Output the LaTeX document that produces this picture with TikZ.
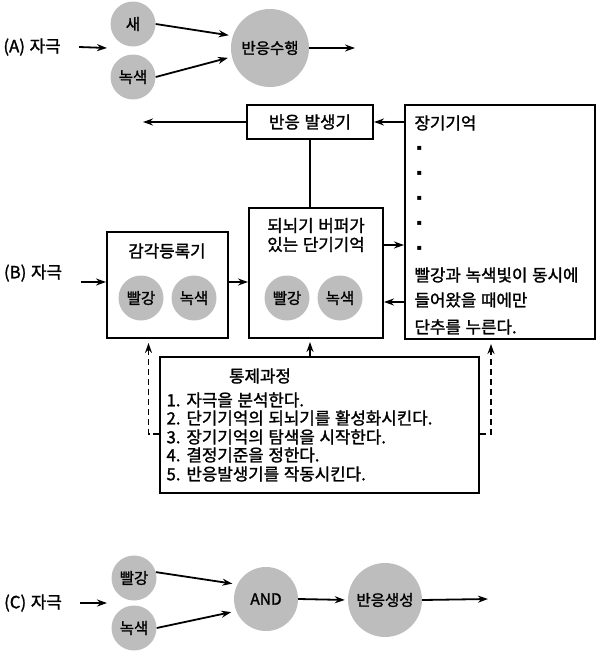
\documentclass[tikz,border=0pt]{standalone}
\usepackage{fontspec}
\setmainfont{Noto Sans CJK KR}[WordSpace=1.25,FakeBold=1.5]
\newfontfamily\symfont{DejaVu Sans}
\usepackage{tikz}
\usetikzlibrary{arrows.meta,calc,positioning}
\definecolor{BulbGray}{HTML}{BDBDBD}

\begin{document}
\begin{tikzpicture}[x=1pt,y=-1pt,font=\fontsize{16.8}{19}\selectfont,
  arr/.style={line width=1.8pt,-{Stealth[length=10pt,width=7pt]}},
  dasharr/.style={arr,dash pattern=on 6pt off 4pt},
  bulb/.style={circle,fill=BulbGray,inner sep=0pt,minimum size=45pt,font=\fontsize{15.5}{17}\selectfont},
  stagebox/.style={draw,line width=2pt,inner sep=0pt}]
  \useasboundingbox (0,0) rectangle (597,653);

  % (A) simple reaction
  \node (lblA) at (32,47) {(A) 자극};
  \coordinate (inA) at (107,48);
  \node[bulb] (saeA) at (133,24) {새};
  \node[bulb] (greenA) at (133,77) {녹색};
  \node[bulb,minimum size=78pt] (respA) at (270,48) {반응수행};
  \coordinate (outA) at (355,48);
  \draw[arr] (lblA.east) ++(15,0) -- (inA);
  \draw[arr,shorten >=4pt] (saeA.east) -- (respA.162);
  \draw[arr,shorten >=4pt] (greenA.east) -- (respA.193);
  \draw[arr] (respA.east) -- (outA);

  % (B) stage model
  \node (lblB) at (33,273) {(B) 자극};
  \node[stagebox,minimum width=126pt,minimum height=34pt] (gen) at (310,122) {반응 발생기};
  \coordinate (outB) at (143,122);
  \node[stagebox,minimum width=121pt,minimum height=106pt] (sens) at (167.5,285) {};
  \node (sensT) at (167,251) {감각등록기};
  \node[bulb] (sensR) at (141,298) {빨강};
  \node[bulb] (sensG) at (194,298) {녹색};
  \node[stagebox,minimum width=134pt,minimum height=130pt] (stm) at (316,273) {};
  \node[align=center] (stmT) at (316,235) {되뇌기 버퍼가\\있는 단기기억};
  \node[bulb] (stmR) at (287,298) {빨강};
  \node[bulb] (stmG) at (340,298) {녹색};
  \node[stagebox,minimum width=190pt,minimum height=234pt] (ltm) at (500,222) {};
  \node[anchor=west] (ltmT) at (411,123) {장기기억};
  \foreach \y in {148,173,198,223,248}
    \node[anchor=west,font=\symfont\fontsize{8}{8}\selectfont] (ltm\y) at (413,\y) {▪};
  \foreach \y/\t in {275/빨강과 녹색빛이 동시에,300/들어왔을 때에만,327/단추를 누른다.}
    \node[anchor=west] (ltm\y) at (411,\y) {\t};
  \node[stagebox,minimum width=319pt,minimum height=136pt] (ctrl) at (319.5,425) {};
  \node (ctrlT) at (260,376) {통제과정};
  \foreach \y/\t in {400/1. 자극을 분석한다.,418/2. 단기기억의 되뇌기를 활성화시킨다.,
      437/3. 장기기억의 탐색을 시작한다.,455/4. 결정기준을 정한다.,474/5. 반응발생기를 작동시킨다.}
    \node[anchor=west] (ctrl\y) at (163,\y) {\t};

  \draw[arr,shorten <=15pt] ([yshift=3pt]sens.west -| lblB.east) -- ([yshift=3pt]sens.west);
  \draw[arr] ([yshift=3pt]sens.east) -- ([yshift=3pt]sens.east -| stm.west);
  \draw[arr] ([yshift=28pt]stm.east) -- ([yshift=28pt]stm.east -| ltm.west);
  \draw[arr] ([yshift=-29pt]stm.east -| ltm.west) -- ([yshift=-29pt]stm.east);
  \draw[arr] (ltm.west |- gen) -- (gen.east);
  \draw[arr] (gen.west) -- (outB);
  \draw[line width=1.8pt] (gen.south) -- (gen.south |- stm.north);
  \draw[arr,shorten >=3pt] (ctrl.north -| gen) -- (gen |- stm.south);
  \draw[dasharr,shorten >=4pt] ([yshift=-9pt]ctrl.west) -| ([xshift=-19pt]sens.south);
  \draw[dasharr,shorten >=4pt] ([yshift=-9pt]ctrl.east) -| ([xshift=-9pt]ltm.south);

  % (C) AND gate
  \node (lblC) at (33,603) {(C) 자극};
  \coordinate (inC) at (107,603);
  \node[bulb] (redC) at (134,578) {빨강};
  \node[bulb] (greenC) at (134,628) {녹색};
  \node[bulb,minimum size=64pt] (andC) at (266,599) {AND};
  \node[bulb,minimum size=74pt] (respC) at (385,600) {반응생성};
  \coordinate (outC) at (488,599);
  \draw[arr] (lblC.east) ++(15,0) -- (inC);
  \draw[arr,shorten >=5pt] (redC.15) -- (andC.153);
  \draw[arr,shorten >=5pt] (greenC.east) -- (andC.202);
  \draw[arr,shorten >=3pt] (andC.east) -- (respC.west);
  \draw[arr] (respC.east) -- (outC);
\end{tikzpicture}
\end{document}
